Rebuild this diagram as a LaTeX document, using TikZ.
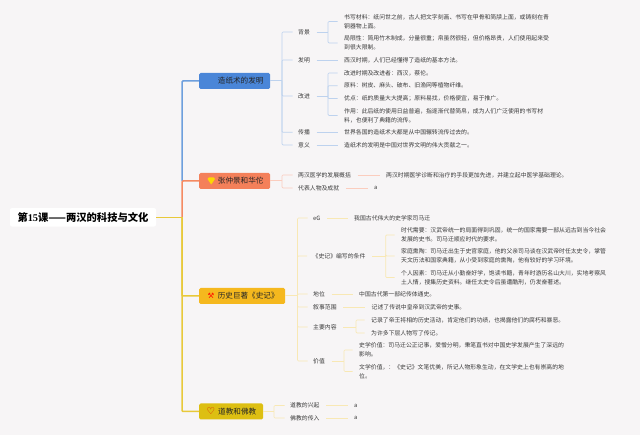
\documentclass[tikz,border=0pt]{standalone}
\usepackage{fontspec}
\setmainfont{Noto Sans CJK SC}
\newfontfamily\symfont{DejaVu Sans}
\newfontfamily\latinroot{Liberation Serif}
\definecolor{bgc}{HTML}{F7F5F6}
\definecolor{txtc}{HTML}{3A3A3A}
\definecolor{cblue}{HTML}{4A86D8}
\definecolor{corange}{HTML}{F4805A}
\definecolor{cyellow}{HTML}{F5B81E}
\definecolor{cgold}{HTML}{DDBF12}
\definecolor{tblue}{HTML}{6E9FDD}
\definecolor{torange}{HTML}{F58A62}
\definecolor{tyellow}{HTML}{E8C93A}
\definecolor{lblue}{HTML}{BDD2EE}
\definecolor{lorange}{HTML}{FBCDBE}
\definecolor{lyellow}{HTML}{F8E8B4}
\tikzset{
  x=1pt,y=-1pt,
  rootbox/.style={fill=white,rounded corners=2pt,minimum width=146pt,minimum height=18.5pt,inner sep=0pt,
     font=\fontsize{10.3}{12}\selectfont\bfseries,text=black},
  brnode/.style={rounded corners=1.5pt,minimum height=16pt,inner sep=0pt,anchor=west,
     font=\fontsize{7.6}{9}\selectfont,text=black!85},
  lab/.style={anchor=west,inner sep=0pt,font=\fontsize{5.85}{8.8}\selectfont,text=txtc},
  leaf/.style={lab,align=left},
  trunk/.style={line width=1.5pt},
  twig/.style={line width=0.7pt,rounded corners=1pt},
  bl/.style={twig,draw=lblue},
  ol/.style={twig,draw=lorange},
  yl/.style={twig,draw=lyellow},
  toLab/.style={shorten >=5.5pt},
  toLeaf/.style={shorten <=6.5pt,shorten >=6.5pt},
}
\begin{document}
\begin{tikzpicture}
\useasboundingbox[fill=bgc] (0,0) rectangle (640,435);
% root and branches
\node[rootbox] (root) at (83,217.3) {第{\latinroot 15}课——两汉的科技与文化};
\coordinate (tk) at (182,217.3);
\coordinate (tk2) at (182,181);
% trunk, drawn before the branch boxes
\draw[trunk,draw=tblue,rounded corners=1pt] (tk2) |- (199,81) coordinate (t1);
\draw[trunk,draw=torange,rounded corners=1pt] (tk) |- (199,181) coordinate (t2);
\draw[trunk,draw=tyellow,rounded corners=1pt] (tk) |- (199,296) coordinate (t3);
\draw[trunk,draw=tyellow,rounded corners=1pt] (tk) |- (199,411.5) coordinate (t4);
\draw[trunk,draw=tyellow] (root.east) -- (tk);
\node[brnode,fill=cblue,minimum width=71pt] (n1) at (t1) {\hspace*{12pt}造纸术的发明};
\node[brnode,fill=corange,minimum width=71pt] (n2) at (t2) {\hspace*{12pt}张仲景和华佗};
\node[brnode,fill=cyellow,minimum width=86pt] (n3) at (t3) {\hspace*{12pt}历史巨著《史记》};
\node[brnode,fill=cgold,minimum width=64pt] (n4) at (t4) {\hspace*{12pt}道教和佛教};
% icons
\fill[fill=yellow!75!orange] (207.5,179) -- (209,177.5) -- (213.5,177.5) -- (215,179) -- (211.2,184.5) -- cycle;
\node[inner sep=0pt,text=red!90!orange,font=\symfont\fontsize{7.5}{8}\selectfont] (i3) at (211,296) {⚒};
\node[inner sep=0pt,text=red!85!black,font=\symfont\fontsize{9.5}{10}\selectfont] (i4) at (211,411.3) {♡};
% ---------- blue
\coordinate (b1) at (282,81);
\draw[bl,line width=1pt] (n1.east) -- (b1);
\node[lab] (a1) at (298,32) {背景};
\node[lab] (a2) at (298,60) {发明};
\node[lab] (a3) at (298,96) {改进};
\node[lab] (a4) at (298,132.3) {传播};
\node[lab] (a5) at (298,145) {意义};
\foreach \t in {a1,a2,a3,a4,a5} \draw[bl,toLab] (b1) |- (\t.west);
\node[leaf] (a11) at (344,21.5) {书写材料：纸问世之前，古人把文字刻画、书写在甲骨和简牍上面，或铸刻在青\\铜器物上面。};
\node[leaf] (a12) at (344,43) {局限性：简用竹木制成，分量很重；帛虽然很轻，但价格昂贵，人们使用起来受\\到很大限制。};
\node[leaf] (a21) at (344,60) {西汉时期，人们已经懂得了造纸的基本方法。};
\node[leaf] (a31) at (344,73) {改进时期及改进者：西汉，蔡伦。};
\node[leaf] (a32) at (344,85.7) {原料：树皮、麻头、破布、旧渔网等植物纤维。};
\node[leaf] (a33) at (344,98.6) {优点：纸的质量大大提高；原料易找，价格便宜，易于推广。};
\node[leaf] (a34) at (344,115.5) {作用：此后纸的使用日益普遍，指逐渐代替简帛，成为人们广泛使用的书写材\\料，也便利了典籍的流传。};
\node[leaf] (a41) at (344,132.3) {世界各国的造纸术大都是从中国辗转流传过去的。};
\node[leaf] (a51) at (344,145) {造纸术的发明是中国对世界文明的伟大贡献之一。};
\coordinate (c1) at (328,32);
\coordinate (c3) at (328,96);
\draw[bl,shorten <=6.5pt] (a1.east) -- (c1);
\draw[bl,shorten <=6.5pt] (a3.east) -- (c3);
\foreach \t in {a11,a12} \draw[bl,shorten >=6.5pt] (c1) |- (\t.west);
\foreach \t in {a31,a32,a33,a34} \draw[bl,shorten >=6.5pt] (c3) |- (\t.west);
\foreach \s/\t in {a2/a21,a4/a41,a5/a51} \draw[bl,toLeaf] (\s.east) -- (\t.west);
% ---------- orange
\coordinate (b2) at (282,181);
\draw[ol,line width=1pt] (n2.east) -- (b2);
\node[lab] (o1) at (298,175) {两汉医学的发展概括};
\node[lab] (o2) at (298,188) {代表人物及成就};
\foreach \t in {o1,o2} \draw[ol,toLab] (b2) |- (\t.west);
\node[leaf] (o11) at (386,175) {两汉时期医学诊断和治疗的手段更加先进，并建立起中医学基础理论。};
\node[leaf] (o21) at (374,188) {a};
\draw[ol,toLeaf] (o1.east) -- (o11.west);
\draw[ol,toLeaf] (o2.east) -- (o21.west);
% ---------- yellow
\coordinate (b3) at (297.5,296);
\draw[yl,line width=1pt] (n3.east) -- (b3);
\node[lab] (y1) at (313,218) {eG};
\node[lab] (y2) at (312.5,256) {《史记》编写的条件};
\node[lab] (y3) at (313,294) {地位};
\node[lab] (y4) at (313,307) {叙事范围};
\node[lab] (y5) at (313,327) {主要内容};
\node[lab] (y6) at (313,361) {价值};
\foreach \t in {y1,y2,y3,y4,y5,y6} \draw[yl,toLab] (b3) |- (\t.west);
\node[leaf] (y11) at (354,218) {我国古代伟大的史学家司马迁};
\node[leaf] (y21) at (401,235) {时代需要：汉武帝统一的局面得到巩固，统一的国家需要一部从远古到当今社会\\发展的史书。司马迁顺应时代的要求。};
\node[leaf] (y22) at (401,256) {家庭熏陶：司马迁出生于史官家庭，他的父亲司马谈在汉武帝时任太史令，掌管\\天文历法和国家典籍，从小受到家庭的熏陶，他有较好的学习环境。};
\node[leaf] (y23) at (401,277.5) {个人因素：司马迁从小勤奋好学，饱读书籍，青年时游历名山大川，实地考察风\\土人情，搜集历史资料。继任太史令后虽遭酷刑，仍发奋著述。};
\node[leaf] (y31) at (359,294) {中国古代第一部纪传体通史。};
\node[leaf] (y41) at (371.5,307) {记述了传说中皇帝到汉武帝的史事。};
\node[leaf] (y51) at (371,320) {记录了帝王将相的历史活动，肯定他们的功绩，也揭露他们的腐朽和暴恶。};
\node[leaf] (y52) at (371,333) {为许多下层人物写了传记。};
\node[leaf] (y61) at (359,350) {史学价值：司马迁公正记事，爱憎分明，秉笔直书对中国史学发展产生了深远的\\影响。};
\node[leaf] (y62) at (359,371.5) {文学价值，：《史记》文笔优美，所记人物形象生动，在文学史上也有崇高的地\\位。};
\coordinate (c2) at (385.7,256);
\coordinate (c5) at (356,327);
\coordinate (c6) at (344,361);
\draw[yl,shorten <=6.5pt] (y2.east) -- (c2);
\draw[yl,shorten <=6.5pt] (y5.east) -- (c5);
\draw[yl,shorten <=6.5pt] (y6.east) -- (c6);
\foreach \t in {y21,y22,y23} \draw[yl,shorten >=6.5pt] (c2) |- (\t.west);
\foreach \t in {y51,y52} \draw[yl,shorten >=6.5pt] (c5) |- (\t.west);
\foreach \t in {y61,y62} \draw[yl,shorten >=6.5pt] (c6) |- (\t.west);
\foreach \s/\t in {y1/y11,y3/y31,y4/y41} \draw[yl,toLeaf] (\s.east) -- (\t.west);
% ---------- gold
\coordinate (b4) at (274,411.5);
\draw[yl,line width=1pt] (n4.east) -- (b4);
\node[lab] (g1) at (290,405.5) {道教的兴起};
\node[lab] (g2) at (290,418) {佛教的传入};
\foreach \t in {g1,g2} \draw[yl,toLab] (b4) |- (\t.west);
\node[leaf] (g11) at (354,405.5) {a};
\node[leaf] (g21) at (354,418) {a};
\draw[yl,toLeaf] (g1.east) -- (g11.west);
\draw[yl,toLeaf] (g2.east) -- (g21.west);
\end{tikzpicture}
\end{document}
